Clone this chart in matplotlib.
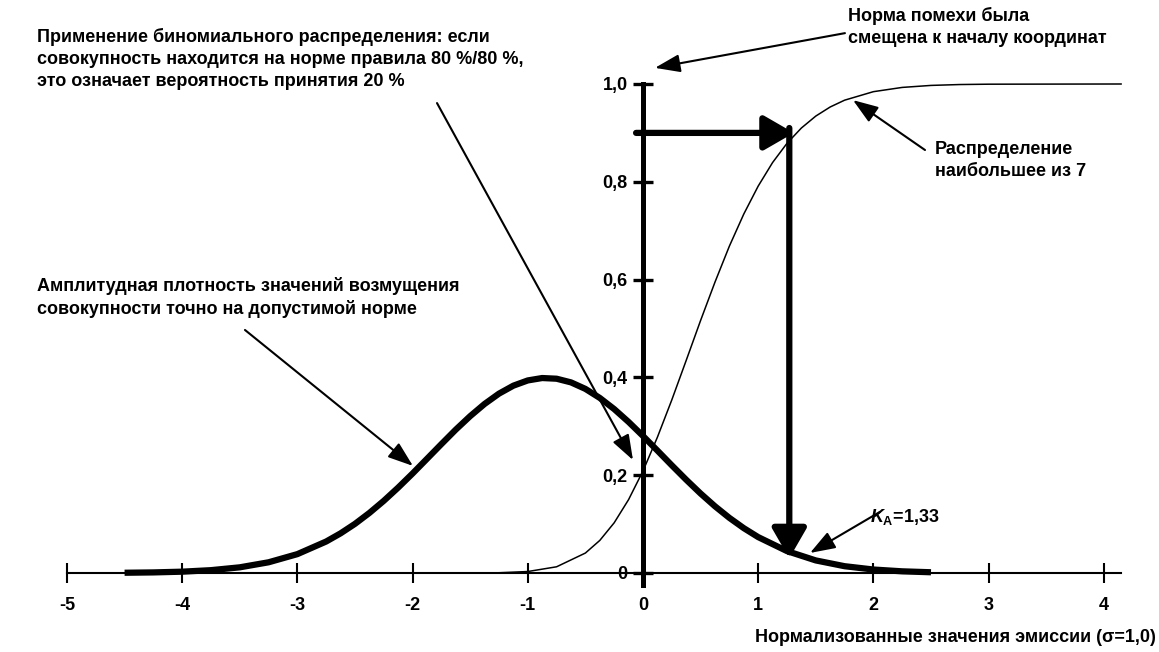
import matplotlib.pyplot as plt

plt.rcParams["font.family"] = ["Liberation Sans", "DejaVu Sans"]
plt.rcParams["font.weight"] = "bold"
plt.rcParams["axes.unicode_minus"] = False
plt.rcParams["mathtext.fontset"] = "custom"
plt.rcParams["mathtext.it"] = "Liberation Sans:italic:bold"
plt.rcParams["mathtext.rm"] = "Liberation Sans:bold"

# amplitude density of the population exactly at the limit (thick curve)
dens_x = [-4.5, -4.25, -4.0, -3.75, -3.5, -3.25, -3.0, -2.75, -2.625, -2.5, -2.375,
          -2.25, -2.125, -2.0, -1.875, -1.75, -1.625, -1.5, -1.375, -1.25, -1.125,
          -1.0, -0.875, -0.75, -0.625, -0.5, -0.375, -0.25, -0.125, 0.0, 0.125,
          0.25, 0.375, 0.5, 0.625, 0.75, 0.875, 1.0, 1.25, 1.5, 1.75,
          2.0, 2.25, 2.5]
dens_y = [0.0005, 0.0012, 0.0027, 0.0058, 0.0116, 0.0219, 0.0386, 0.0644, 0.0811, 0.1005, 0.1228,
          0.1476, 0.1747, 0.2035, 0.2335, 0.2636, 0.2932, 0.3208, 0.3457, 0.3668, 0.3831,
          0.3938, 0.3987, 0.3973, 0.3898, 0.3765, 0.3580, 0.3352, 0.3089, 0.2802, 0.2504,
          0.2202, 0.1907, 0.1625, 0.1364, 0.1127, 0.0917, 0.0734, 0.0448, 0.0257, 0.0139,
          0.0071, 0.0034, 0.0015]

# distribution of the largest of 7 (thin curve)
cdf_x = [-1.25, -1.0, -0.75, -0.5, -0.375, -0.25, -0.125, 0.0, 0.125, 0.25,
         0.375, 0.5, 0.625, 0.75, 0.875, 1.0, 1.125, 1.25, 1.375, 1.5,
         1.625, 1.75, 2.0, 2.25, 2.5, 2.75, 3.0, 4.15]
cdf_y = [0.0005, 0.003, 0.0127, 0.0408, 0.0666, 0.1027, 0.1501, 0.2087, 0.2776, 0.3539,
         0.4347, 0.5164, 0.5949, 0.6685, 0.7341, 0.7912, 0.8394, 0.8787, 0.9100, 0.9344,
         0.9530, 0.9669, 0.9843, 0.9930, 0.9971, 0.9989, 0.9996, 1.0]

x_ticks = [-5, -4, -3, -2, -1, 0, 1, 2, 3, 4]
y_ticks = [0, 0.2, 0.4, 0.6, 0.8, 1.0]
y_labels = ["0", "0,2", "0,4", "0,6", "0,8", "1,0"]

k_a = 1.27      # where the 0.9 level meets the max-of-7 curve
level = 0.9

fig = plt.figure(figsize=(11.59, 6.52), dpi=100)
ax = fig.add_axes([0.01803, 0.04617, 0.9741, 0.8625])
ax.set_xlim(-5.4, 4.4)
ax.set_ylim(-0.1, 1.05)

for s in ["top", "right"]:
    ax.spines[s].set_visible(False)
ax.spines["left"].set_position(("data", 0))
ax.spines["bottom"].set_position(("data", 0))
ax.spines["left"].set_linewidth(3.6)
ax.spines["bottom"].set_linewidth(1.5)
ax.spines["left"].set_bounds(-0.025, 1.0)
ax.spines["bottom"].set_bounds(-5, 4.15)

ax.set_xticks(x_ticks)
ax.set_xticklabels([str(v) for v in x_ticks])
ax.set_yticks(y_ticks)
ax.set_yticklabels(y_labels)
ax.tick_params(axis="x", direction="inout", length=14, width=1.5, pad=10, labelsize=13)
ax.tick_params(axis="y", direction="inout", length=14, width=2.4, pad=4, labelsize=13)
for lab in ax.get_xticklabels() + ax.get_yticklabels():
    lab.set_fontweight("bold")

ax.plot(dens_x, dens_y, color="black", lw=4.5, solid_capstyle="butt",
        solid_joinstyle="round", zorder=3)
ax.plot(cdf_x, cdf_y, color="black", lw=1.1, zorder=3)

# thick arrows: level 0.9 -> K_A -> down to the axis
big = dict(arrowstyle="-|>,head_length=1.3,head_width=0.75", lw=4.5, color="black",
           mutation_scale=14, shrinkA=0, shrinkB=0)
ax.annotate("", xy=(k_a + 0.04, level), xytext=(-0.06, level), arrowprops=big, zorder=4)
ax.annotate("", xy=(k_a, 0.03), xytext=(k_a, level + 0.01), arrowprops=big, zorder=4)

thin = dict(arrowstyle="-|>,head_length=1.4,head_width=0.5", lw=1.5, color="black",
            mutation_scale=11, shrinkA=0, shrinkB=0)
arrows = [
    ((0.104, 1.033), (1.753, 1.104)),
    ((-0.087, 0.231), (-1.788, 0.961)),
    ((-1.997, 0.219), (-3.455, 0.497)),
    ((1.823, 0.967), (2.448, 0.865)),
    ((1.45, 0.041), (2.057, 0.125)),
]
for tip, tail in arrows:
    ax.annotate("", xy=tip, xytext=tail, arrowprops=thin, annotation_clip=False, zorder=5)

txt = dict(fontsize=13, fontweight="bold", ha="left", va="top", linespacing=1.38)
ax.text(1.78, 1.158, "Норма помехи была\nсмещена к началу координат", clip_on=False, **txt)
ax.text(-5.26, 1.114,
        "Применение биномиального распределения: если\n"
        "совокупность находится на норме правила 80 %/80 %,\n"
        "это означает вероятность принятия 20 %", clip_on=False, **txt)
ax.text(-5.26, 0.606, "Амплитудная плотность значений возмущения\n"
        "совокупности точно на допустимой норме", **txt)
ax.text(2.535, 0.884, "Распределение\nнаибольшее из 7", **txt)
ax.text(1.97, 0.115, r"$K_{\mathrm{A}}$=1,33", fontsize=13, fontweight="bold",
        ha="left", va="center")

fig.text(0.997, 0.022, "Нормализованные значения эмиссии (σ=1,0)", fontsize=13,
         fontweight="bold", ha="right", va="center")

fig.savefig("out.png", dpi=100, facecolor="white")
